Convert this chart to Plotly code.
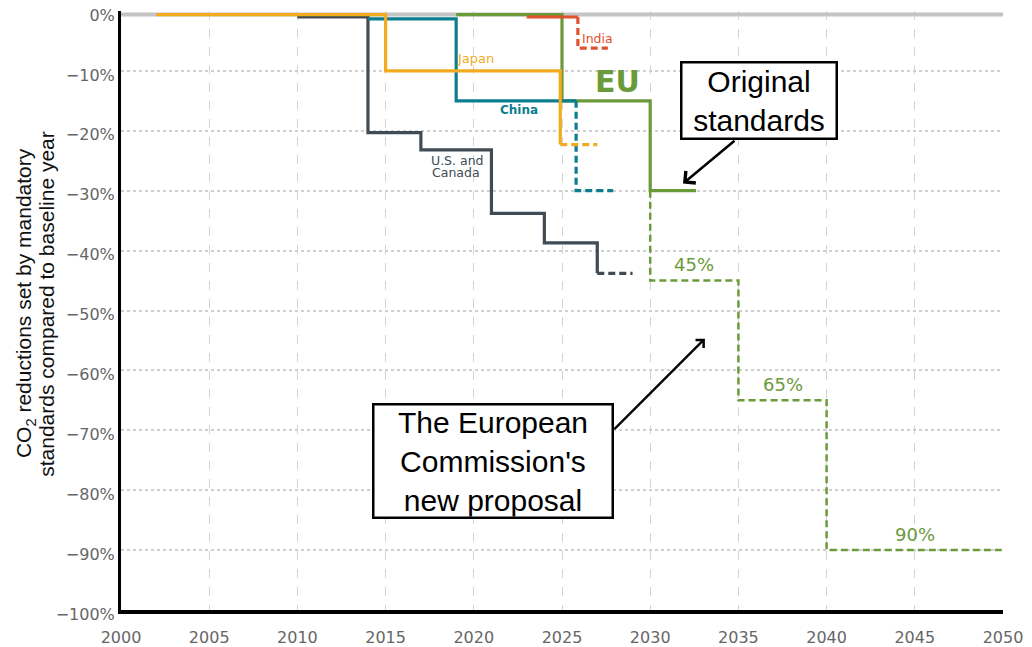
import plotly.graph_objects as go

# ---------------- data ----------------
baseline_years = [2000, 2050]
baseline_vals = [-0.6, -0.6]

us_years = [2010, 2014, 2017, 2021, 2024, 2027]
us_vals = [-1.0, -20.3, -23.2, -33.8, -38.7, -43.8]
us_proj_years = [2027, 2029]
us_proj_vals = [-43.8, -43.8]

china_years = [2014, 2019, 2025.8]
china_vals = [-1.3, -15.0, -15.0]
china_proj_years = [2025.8, 2027.9]
china_proj_vals = [-15.0, -30.0]

india_years = [2023, 2025.9]
india_vals = [-1.0, -1.0]
india_proj_years = [2025.9, 2027.6]
india_proj_vals = [-1.0, -6.2]

japan_years = [2002, 2015, 2024.9]
japan_vals = [-0.6, -10.0, -22.3]
japan_proj_years = [2024.9, 2027]
japan_proj_vals = [-22.3, -22.3]

eu_years = [2019, 2025, 2030, 2032.6]
eu_vals = [-0.6, -15.0, -30.0, -30.0]
eu_prop_years = [2030, 2035, 2040, 2050]
eu_prop_vals = [-30.0, -45.0, -65.0, -90.0]
eu_prop_labels = ["45%", "65%", "90%"]

x_ticks = list(range(2000, 2051, 5))
y_ticks = list(range(-100, 1, 10))
y_tick_text = ["\u2212%d%%" % (-v) if v < 0 else "%d%%" % v for v in y_ticks]

# ---------------- colours ----------------
C_GRAY = "#c4c4c4"
C_US = "#404b55"
C_CHINA = "#0d7e8f"
C_INDIA = "#e0522c"
C_JAPAN = "#f2ab1f"
C_EU = "#6b9a3a"
DASH = "7px,4px"

fig = go.Figure()


def step(x, y, color, shape="hv", dash=None, width=3.2):
    fig.add_trace(go.Scatter(
        x=x, y=y, mode="lines",
        line=dict(color=color, width=width, shape=shape, dash=dash),
        hoverinfo="skip", showlegend=False))


step(baseline_years, baseline_vals, C_GRAY, width=4)
step(us_years, us_vals, C_US)
step(us_proj_years, us_proj_vals, C_US, dash=DASH)
step(eu_years, eu_vals, C_EU)
step(eu_prop_years, eu_prop_vals, C_EU, shape="vh", dash=DASH, width=2.5)
step(china_years, china_vals, C_CHINA)
step(china_proj_years, china_proj_vals, C_CHINA, shape="vh", dash=DASH)
step(india_years, india_vals, C_INDIA)
step(india_proj_years, india_proj_vals, C_INDIA, shape="vh", dash=DASH)
step(japan_years, japan_vals, C_JAPAN)
step(japan_proj_years, japan_proj_vals, C_JAPAN, dash=DASH)

LBL = "DejaVu Sans"
ann = []


def label(x, y, text, color, size, family=LBL):
    ann.append(dict(x=x, y=y, xref="x", yref="y", text=text, showarrow=False,
                    font=dict(family=family, size=size, color=color),
                    xanchor="center", yanchor="middle"))


label(2027.04, -4.67, "India", C_INDIA, 12.5)
label(2020.07, -8.0, "Japan", C_JAPAN, 13)
label(2022.56, -16.5, "<b>China</b>", C_CHINA, 12)
label(2028.17, -11.8, "<b>EU</b>", C_EU, 30)
label(2019.1, -25.0, "U.S. and", C_US, 12.5)
label(2019.0, -26.9, "Canada", C_US, 12.5)

# proposal step labels, placed above each horizontal step
for i, txt in enumerate(eu_prop_labels):
    x0 = eu_prop_years[i]
    x1 = eu_prop_years[i + 1]
    label((x0 + x1) / 2, eu_prop_vals[i + 1] + 2.6, txt, C_EU, 18)

ARIAL = "Liberation Sans, Arial"
# callout boxes
ann.append(dict(x=2036.14, y=-15.0, xref="x", yref="y",
                text="Original<br>standards", showarrow=False,
                font=dict(family=ARIAL, size=30, color="black"),
                bordercolor="black", borderwidth=2.5, borderpad=0,
                bgcolor="white", width=153, height=74))
ann.append(dict(x=2021.06, y=-75.1, xref="x", yref="y",
                text="The European<br>Commission's<br>new proposal", showarrow=False,
                font=dict(family=ARIAL, size=30, color="black"),
                bordercolor="black", borderwidth=2.5, borderpad=0,
                bgcolor="white", width=237, height=111))
# arrows
ann.append(dict(x=2031.86, y=-28.8, xref="x", yref="y", text="", showarrow=True,
                ax=53, ay=-44, arrowhead=4, arrowsize=1.2, arrowwidth=2.5,
                arrowcolor="black"))
ann.append(dict(x=2033.1, y=-54.7, xref="x", yref="y", text="", showarrow=True,
                ax=-92, ay=92, arrowhead=4, arrowsize=1.0, arrowwidth=2.2,
                arrowcolor="black"))

# y-axis title (two tightly spaced lines)
ann.append(dict(x=-0.108, y=0.512, xref="paper", yref="paper",
                text="CO<sub>2</sub> reductions set by mandatory", showarrow=False,
                textangle=-90, xanchor="center", yanchor="middle",
                font=dict(family=ARIAL, size=21, color="#111")))
ann.append(dict(x=-0.0845, y=0.512, xref="paper", yref="paper",
                text="standards compared to baseline year", showarrow=False,
                textangle=-90, xanchor="center", yanchor="middle",
                font=dict(family=ARIAL, size=21, color="#111")))

# the page body adds an 8px offset, so the figure is laid out accordingly
fig.update_layout(
    width=1024, height=639,
    margin=dict(l=113, r=29, t=3, b=37, autoexpand=False),
    paper_bgcolor="white", plot_bgcolor="white",
    showlegend=False,
    annotations=ann,
    xaxis=dict(range=[2000, 2050], tickvals=x_ticks, showgrid=True,
               gridcolor="#d4d4d4", gridwidth=1, griddash="dash",
               showline=True, linecolor="black", linewidth=4,
               zeroline=False, ticks="", ticklabelstandoff=10, automargin=False,
               ticklabeloverflow="allow",
               tickfont=dict(family="DejaVu Sans", size=16, color="#666")),
    yaxis=dict(range=[-100, 0], tickvals=y_ticks, ticktext=y_tick_text,
               showgrid=True, gridcolor="#cfcfcf", gridwidth=2, griddash="dot",
               showline=True, linecolor="black", linewidth=3, automargin=False,
               zeroline=False, ticks="", ticklabeloverflow="allow",
               ticklabelshift=4,
               tickfont=dict(family="DejaVu Sans", size=16, color="#666")),
)

fig.write_html("out.html")
